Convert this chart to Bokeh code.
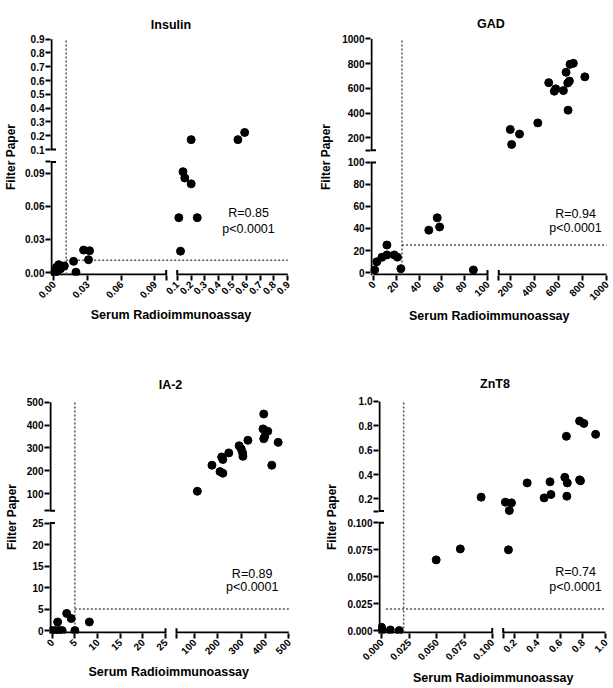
import math
from bokeh.plotting import figure
from bokeh.models import Range1d, LinearAxis, FixedTicker, Label, Title
from bokeh.layouts import column, row
from bokeh.embed import file_html
from bokeh.resources import INLINE

FONT = "Liberation Sans"

# ---------------- data ----------------
INS_X = [0.0006, 0.001, 0.0015, 0.0024, 0.003, 0.0035, 0.0044, 0.0059, 0.0076, 0.0094,
         0.0176, 0.0197, 0.0265, 0.0318, 0.0309,
         0.112, 0.124, 0.142, 0.155, 0.201, 0.245, 0.201, 0.539, 0.588]
INS_Y = [0.0003, 0.0, 0.0018, 0.0048, 0.001, 0.0024, 0.0071, 0.0033, 0.0054, 0.006,
         0.0101, 0.0003, 0.0203, 0.0197, 0.0116,
         0.0496, 0.0193, 0.0912, 0.0855, 0.0802, 0.0496, 0.172, 0.172, 0.224]

GAD_X = [1, 2.9, 7.4, 11.8, 11.8, 18.2, 21, 24, 48.5, 55.9, 58, 87.6,
         196, 273, 207, 426, 517, 564, 575, 640, 662, 690, 676, 679, 695, 723, 819]
GAD_Y = [2.4, 9.8, 13.9, 16, 25, 16, 14, 3.5, 38.5, 49.7, 41.4, 2.4,
         268, 231, 147, 321, 646, 577, 596, 582, 730, 659, 643, 424, 794, 802, 693]

IA2_X = [0, 0.7, 1.5, 2.2, 1.2, 3.2, 4.2, 5, 8.2,
         113, 175, 209, 221, 216, 221, 246, 290, 299, 306, 305, 327, 394, 391, 411, 398, 394, 455, 428]
IA2_Y = [0, 0, 0, 0, 2, 4, 2.8, 0, 2,
         110, 224, 196, 189, 260, 249, 278, 309, 295, 263, 277, 333, 448, 383, 373, 349, 340, 324, 224]

ZNT_X = [0, 0, 0, 0.008, 0.016, 0.0494, 0.0712, 0.09, 0.146, 0.119, 0.173, 0.154, 0.311,
         0.46, 0.512, 0.52, 0.642, 0.664, 0.656, 0.66, 0.772, 0.81, 0.772, 0.78, 0.913]
ZNT_Y = [0, 0.0015, 0.003, 0.0005, 0, 0.0655, 0.0757, 0.214, 0.0748, 0.173, 0.167, 0.104, 0.331,
         0.208, 0.34, 0.236, 0.377, 0.331, 0.714, 0.222, 0.84, 0.82, 0.356, 0.348, 0.73]

# tick values / labels (lower segment, upper segment)
INS_T_LO = [0, 0.03, 0.06, 0.09]
INS_L_LO = ["0.00", "0.03", "0.06", "0.09"]
INS_T_HI = [0.1, 0.2, 0.3, 0.4, 0.5, 0.6, 0.7, 0.8, 0.9]
INS_L_HI = ["0.1", "0.2", "0.3", "0.4", "0.5", "0.6", "0.7", "0.8", "0.9"]

GAD_T_LO = [0, 20, 40, 60, 80, 100]
GAD_L_LO = ["0", "20", "40", "60", "80", "100"]
GAD_T_HI = [200, 400, 600, 800, 1000]
GAD_L_HI = ["200", "400", "600", "800", "1000"]

IA2_T_LO = [0, 5, 10, 15, 20, 25]
IA2_L_LO = ["0", "5", "10", "15", "20", "25"]
IA2_T_HI = [100, 200, 300, 400, 500]
IA2_L_HI = ["100", "200", "300", "400", "500"]

ZNT_T_LO = [0, 0.025, 0.05, 0.075, 0.1]
ZNT_L_LO = ["0.000", "0.025", "0.050", "0.075", "0.100"]
ZNT_T_HI = [0.2, 0.4, 0.6, 0.8, 1.0]
ZNT_L_HI = ["0.2", "0.4", "0.6", "0.8", "1.0"]

# axis breaks: (lower segment end = upper segment start, upper end)
INS_BREAK = (0.1, 0.9)
GAD_BREAK = (100, 1000)
IA2_BREAK = (25, 500)
ZNT_BREAK = (0.1, 1.0)

# cut-off values (dotted lines): x, y, start of the horizontal line
INS_CUT = (0.011, 0.011, 0.011)
GAD_CUT = (25, 25, 25)
IA2_CUT = (5, 5, 5)
ZNT_CUT = (0.02, 0.02, 0.004)

STATS = {"Insulin": ("R=0.85", "p<0.0001"), "GAD": ("R=0.94", "p<0.0001"),
         "IA-2": ("R=0.89", "p<0.0001"), "ZnT8": ("R=0.74", "p<0.0001")}

# ---------------- layout (page pixels) ----------------
PANELS = [
    dict(name="Insulin", X=INS_X, Y=INS_Y, tlo=INS_T_LO, llo=INS_L_LO, thi=INS_T_HI, lhi=INS_L_HI,
         brk=INS_BREAK, cut=INS_CUT, fig=(0, 0, 306, 344), origin=(53.3, 272),
         xpx=(165.7, 176.7, 287.3), ypx=(160.5, 148, 36.7), fr=291, ft=36,
         t_so=13, t_off=-3, y_so=4, x_so=3, x_off=0, stat=(248, 212, 228),
         xtitle="Serum Radioimmunoassay"),
    dict(name="GAD", X=GAD_X, Y=GAD_Y, tlo=GAD_T_LO, llo=GAD_L_LO, thi=GAD_T_HI, lhi=GAD_L_HI,
         brk=GAD_BREAK, cut=GAD_CUT, fig=(306, 0, 306, 344), origin=(373, 276),
         xpx=(487, 498.3, 606), ypx=(164, 151.7, 38.3), fr=611, ft=38,
         t_so=15, t_off=1, y_so=6, x_so=1, x_off=1, stat=(575, 216.7, 230.7),
         xtitle="Serum  Radioimmunoassay"),
    dict(name="IA-2", X=IA2_X, Y=IA2_Y, tlo=IA2_T_LO, llo=IA2_L_LO, thi=IA2_T_HI, lhi=IA2_L_HI,
         brk=IA2_BREAK, cut=IA2_CUT, fig=(0, 344, 306, 343), origin=(51.7, 637),
         xpx=(165, 176, 288.3), ypx=(526.3, 513.5, 401.7), fr=291, ft=400,
         t_so=17, t_off=0, y_so=5, x_so=4, x_off=-4, stat=(251.7, 578.3, 591.7),
         xtitle="Serum  Radioimmunoassay"),
    dict(name="ZnT8", X=ZNT_X, Y=ZNT_Y, tlo=ZNT_T_LO, llo=ZNT_L_LO, thi=ZNT_T_HI, lhi=ZNT_L_HI,
         brk=ZNT_BREAK, cut=ZNT_CUT, fig=(306, 344, 306, 343), origin=(381, 631),
         xpx=(491.7, 502.7, 605), ypx=(522.7, 511, 401), fr=611, ft=400,
         t_so=19, t_off=4, y_so=5, x_so=5, x_off=4, stat=(575, 572.7, 587.3),
         xtitle="Serum  Radioimmunoassay"),
]

EDGE = 3      # px between frame edge and data zero
CAP = 4.5


def seg_map(seg, v):
    a, b, d0, d1 = seg
    return d0 + (v - a) * (d1 - d0) / (b - a)


def seg_range(seg, f0, f1):
    a, b, d0, d1 = seg
    k = (b - a) / (d1 - d0)
    return Range1d(a + (f0 - d0) * k, a + (f1 - d0) * k)


def make_axis(side, ticks, labels):
    ax = LinearAxis(ticker=FixedTicker(ticks=list(ticks), minor_ticks=[]),
                    major_label_overrides={t: l for t, l in zip(ticks, labels)},
                    axis_line_color=None,
                    major_tick_out=5, major_tick_in=0, major_tick_line_width=2,
                    major_tick_line_color="black", minor_tick_line_color=None,
                    major_label_standoff=2 if side == "below" else 1,
                    major_label_text_font=FONT,
                    major_label_text_font_style="bold", major_label_text_font_size="10px",
                    major_label_text_color="black")
    if side == "below":
        ax.major_label_orientation = math.pi / 4
    return ax


def ticks_for(segs, c):
    brk = c["brk"][0]
    t = [(round(seg_map(segs[0], v), 4), l) for v, l in zip(c["tlo"], c["llo"])]
    t += [(round(seg_map(segs[1], v), 4), l) for v, l in zip(c["thi"], c["lhi"])]
    # break ends get an (unlabelled) outer cap tick
    if brk not in c["tlo"]:
        t.append((round(seg_map(segs[0], brk), 4), ""))
    if brk not in c["thi"]:
        t.append((round(seg_map(segs[1], brk), 4), ""))
    return [a for a, _ in t], [b for _, b in t]


def txt(text, size, so, off):
    return Title(text=text, align="center", text_font=FONT, text_font_size=size,
                 text_font_style="bold", text_color="black", standoff=so, offset=off)


def build(c):
    fx, fy, W, H = c["fig"]
    ox, oy = c["origin"]
    fl = int(round(ox - EDGE))
    fb = int(round(oy + EDGE))
    ft = c["ft"]
    fr = c["fr"]
    X0, X1 = fl - ox, fr - ox
    Y0, Y1 = oy - fb, oy - ft

    brk, top = c["brk"]
    xlo_end, xhi_start, xhi_end = c["xpx"]
    ylo_end, yhi_start, yhi_end = c["ypx"]
    xs = [(0, brk, 0, xlo_end - ox), (brk, top, xhi_start - ox, xhi_end - ox)]
    ys = [(0, brk, 0, oy - ylo_end), (brk, top, oy - yhi_start, oy - yhi_end)]

    p = figure(width=W, height=H, x_range=Range1d(X0, X1), y_range=Range1d(Y0, Y1),
               x_axis_type=None, y_axis_type=None, output_backend="svg",
               toolbar_location=None,
               min_border_left=fl - fx, min_border_right=fx + W - fr,
               min_border_top=ft - fy, min_border_bottom=fy + H - fb)
    p.outline_line_color = None
    p.background_fill_color = "white"
    p.border_fill_color = "white"
    p.extra_x_ranges = {"xlo": seg_range(xs[0], X0, X1), "xhi": seg_range(xs[1], X0, X1)}
    p.extra_y_ranges = {"ylo": seg_range(ys[0], Y0, Y1), "yhi": seg_range(ys[1], Y0, Y1)}

    # axes (ticks + labels) on the broken display scale
    xt, xl = ticks_for(xs, c)
    yt, yl = ticks_for(ys, c)
    p.add_layout(make_axis("below", xt, xl), "below")
    yax = make_axis("left", yt, yl)
    yax.axis_label = "Filter Paper"
    yax.axis_label_standoff = c["y_so"]
    yax.axis_label_text_font = FONT
    yax.axis_label_text_font_size = "12px"
    yax.axis_label_text_font_style = "bold"
    yax.axis_label_text_color = "black"
    p.add_layout(yax, "left")

    # titles
    p.title = txt(c["name"], "12.5px", c["t_so"], c["t_off"])
    p.add_layout(txt(c["xtitle"], "12.5px", c["x_so"], c["x_off"]), "below")

    # axis lines with breaks (drawn along the frame edges)
    lx = X0 + 1
    ly = Y0 + 1
    lk = dict(line_color="black", line_width=2)
    p.segment(x0=[0], x1=[brk], y0=[ly], y1=[ly], x_range_name="xlo", **lk)
    p.segment(x0=[brk], x1=[top], y0=[ly], y1=[ly], x_range_name="xhi", **lk)
    p.segment(x0=[lx], x1=[lx], y0=[0], y1=[brk], y_range_name="ylo", **lk)
    p.segment(x0=[lx], x1=[lx], y0=[brk], y1=[top], y_range_name="yhi", **lk)
    p.segment(x0=[X0], x1=[X0 + 2], y0=[ly], y1=[ly], **lk)  # corner
    # inner halves of the break caps
    ck = dict(line_color="black", line_width=2)
    p.segment(x0=[brk], x1=[brk], y0=[Y0], y1=[ly + CAP], x_range_name="xlo", **ck)
    p.segment(x0=[brk], x1=[brk], y0=[Y0], y1=[ly + CAP], x_range_name="xhi", **ck)
    p.segment(x0=[X0], x1=[lx + CAP], y0=[brk], y1=[brk], y_range_name="ylo", **ck)
    p.segment(x0=[X0], x1=[lx + CAP], y0=[brk], y1=[brk], y_range_name="yhi", **ck)

    # dotted cut-off lines
    cx, cy, hstart = c["cut"]
    dk = dict(line_color="#555555", line_width=1.5, line_dash="2 2")
    p.segment(x0=[cx], x1=[cx], y0=[ly], y1=[seg_map(ys[1], top)], x_range_name="xlo", **dk)
    p.segment(x0=[seg_map(xs[0], hstart)], x1=[seg_map(xs[1], top)], y0=[cy], y1=[cy],
              y_range_name="ylo", **dk)

    # points, one group per quadrant of the broken axes
    for xn in ("xlo", "xhi"):
        for yn in ("ylo", "yhi"):
            px, py = [], []
            for x, y in zip(c["X"], c["Y"]):
                if (x <= brk) == (xn == "xlo") and (y <= brk) == (yn == "ylo"):
                    px.append(x)
                    py.append(y)
            if px:
                p.scatter(x=px, y=py, x_range_name=xn, y_range_name=yn, marker="circle",
                          size=8, fill_color="black", line_color="black")

    sx, sy1, sy2 = c["stat"]
    r, pv = STATS[c["name"]]
    for yy, t in ((sy1, r), (sy2, pv)):
        p.add_layout(Label(x=sx - ox, y=oy - yy, text=t, text_align="center",
                           text_baseline="middle", text_font=FONT, text_font_size="12.5px",
                           text_color="black"))
    return p


figs = [build(c) for c in PANELS]
layout = column(row(figs[0], figs[1]), row(figs[2], figs[3]))
open("out.html", "w").write(file_html(layout, INLINE))
